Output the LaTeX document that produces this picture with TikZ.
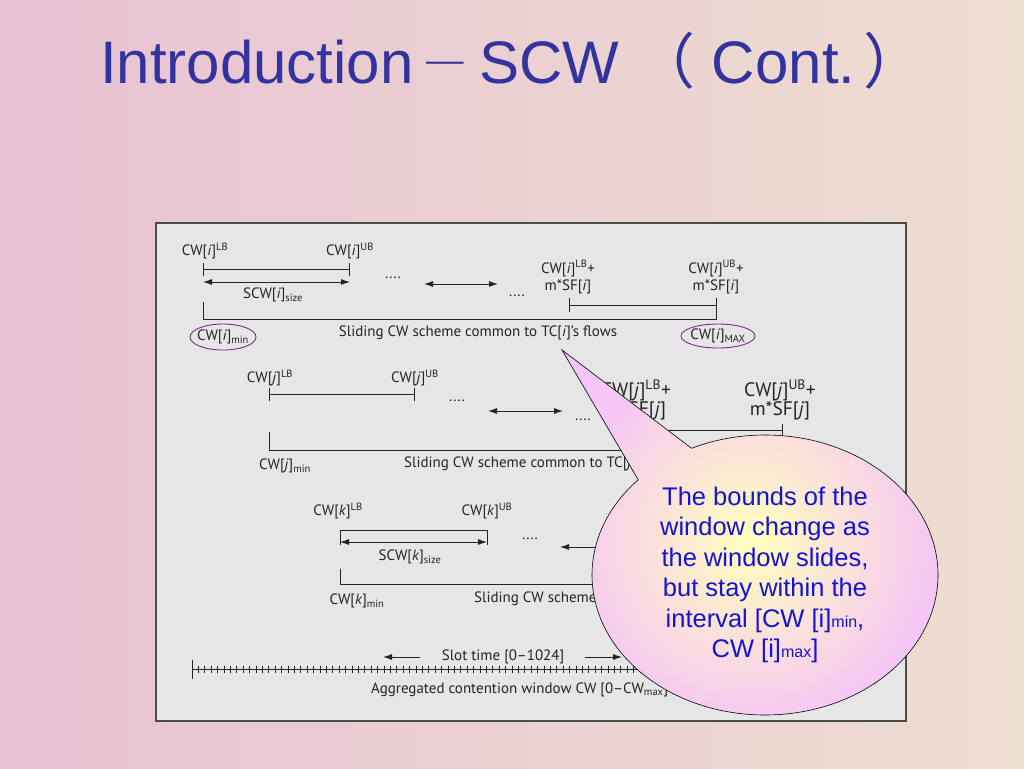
\documentclass[tikz,border=0pt]{standalone}
\usepackage{fontspec}
\usepackage{xcolor}
\usetikzlibrary{shapes,shapes.callouts,arrows.meta,positioning,calc}
\newfontfamily\figfont{PT Sans}
\newfontfamily\slidefont{Liberation Sans}
\newfontfamily\cjkfont{Noto Sans CJK SC}
\definecolor{titleblue}{RGB}{51,51,160}
\definecolor{noteblue}{RGB}{20,20,210}
\definecolor{panelgray}{RGB}{230,230,230}
\definecolor{inkgray}{RGB}{35,35,35}
\definecolor{ringviolet}{RGB}{130,40,140}
\definecolor{bgpink}{RGB}{232,194,212}
\definecolor{bgmid}{RGB}{246,234,236}
\definecolor{bgcream}{RGB}{238,222,208}
\definecolor{notein}{RGB}{255,255,188}
\definecolor{noteout}{RGB}{246,198,246}

\begin{document}
\begin{tikzpicture}[
    x=1pt, y=-1pt,
    lbl/.style={font=\figfont\fontsize{15}{17}\selectfont, text=inkgray, inner sep=1pt, align=center},
    biglbl/.style={lbl, font=\figfont\fontsize{19.5}{19}\selectfont},
    wire/.style={draw=inkgray, line width=0.9pt},
    spanbar/.style={wire, {Bar[width=13pt]}-{Bar[width=13pt]}},
    dbl/.style={wire, {Latex[length=9pt,width=6pt]}-{Latex[length=9pt,width=6pt]}},
    arr/.style={wire, -{Latex[length=9pt,width=6pt]}},
    ring/.style={draw=ringviolet, line width=0.9pt},
    panel/.style={draw=gray!60!black, line width=1.5pt, fill=panelgray, inner sep=0pt},
    note/.style={ellipse callout, draw=black, line width=0.6pt, shade, inner color=notein, outer color=noteout,
        inner sep=0pt, align=center, text=noteblue, font=\slidefont\fontsize{25.5}{30.5}\selectfont}
]
\useasboundingbox (0,0) rectangle (1024,768);

% Slide background
\fill[left color=bgpink, middle color=bgmid, right color=bgcream] (0,0) rectangle (1024,768);

% Title
\node[anchor=base west, inner sep=0pt, text=titleblue, font=\slidefont\fontsize{60}{60}\selectfont] (title) at (100,83)
    {Introduction\hspace{6pt}\raisebox{9pt}{\scalebox{0.86}[0.5]{\cjkfont －}}\hspace{8pt}SCW {\cjkfont （}\hspace{16pt}Cont.\hspace{8pt}{\cjkfont ）}};

% Figure panel
\node[panel, anchor=north west, minimum width=750, minimum height=498] (panel) at (155,222) {};

% Row i
\node[lbl] (lbi) at (205,251) {CW[\textit{i}]\textsuperscript{LB}};
\node[lbl] (ubi) at (350,251) {CW[\textit{i}]\textsuperscript{UB}};
\coordinate (ia) at (203,269);
\coordinate (ib) at (350,269);
\draw[spanbar] (ia) -- (ib);
\coordinate (isa) at (203,282);
\coordinate (isb) at (350,282);
\draw[dbl] (isa) -- (isb);
\node[lbl] (sizei) at (273,295) {SCW[\textit{i}]\textsubscript{size}};
\node[lbl] (dotsia) at (393,278) {....};
\coordinate (ima) at (424,284);
\coordinate (imb) at (498,284);
\draw[dbl] (ima) -- (imb);
\node[lbl] (dotsib) at (517,296) {....};
\node[lbl] (lbsi) at (568,277) {CW[\textit{i}]\textsuperscript{LB}+\\m*SF[\textit{i}]};
\node[lbl] (ubsi) at (716,277) {CW[\textit{i}]\textsuperscript{UB}+\\m*SF[\textit{i}]};
\coordinate (isf) at (569,305);
\coordinate (isg) at (716,305);
\draw[wire, {Bar[width=14pt]}-] (isf) -- (isg);
\coordinate (imin) at (203,319);
\coordinate (imax) at (716,319);
\draw[wire] ($(imin)+(0,-17)$) -- (imin) -- (imax) -- ($(imax)+(0,-21)$);
\node[lbl] (cwimin) at (223,337) {CW[\textit{i}]\textsubscript{min}};
\draw[ring] (cwimin.center) ellipse [x radius=33, y radius=13];
\node[lbl] (schi) at (478,333) {Sliding CW scheme common to TC[\textit{i}]’s flows};
\node[lbl] (cwimax) at (718,336) {CW[\textit{i}]\textsubscript{MAX}};
\draw[ring] (cwimax.center) ellipse [x radius=37, y radius=12];

% Row j
\node[lbl] (lbj) at (270,378) {CW[\textit{j}]\textsuperscript{LB}};
\node[lbl] (ubj) at (415,378) {CW[\textit{j}]\textsuperscript{UB}};
\coordinate (ja) at (269,394);
\coordinate (jb) at (415,394);
\draw[spanbar] (ja) -- (jb);
\node[lbl] (dotsja) at (457,401) {....};
\coordinate (jma) at (488,411);
\coordinate (jmb) at (563,411);
\draw[dbl] (jma) -- (jmb);
\node[lbl] (dotsjb) at (583,420) {....};
\node[biglbl] (lbsj) at (636,400) {CW[\textit{j}]\textsuperscript{LB}+\\m*SF[\textit{j}]};
\node[biglbl] (ubsj) at (780,400) {CW[\textit{j}]\textsuperscript{UB}+\\m*SF[\textit{j}]};
\coordinate (jsf) at (636,430);
\coordinate (jsg) at (782,430);
\draw[wire, {Bar[width=14pt]}-] (jsf) -- (jsg);
\coordinate (jmin) at (269,450);
\coordinate (jmax) at (782,450);
\draw[wire] ($(jmin)+(0,-18)$) -- (jmin) -- (jmax) -- ($(jmax)+(0,-26)$);
\node[lbl] (cwjmin) at (285,466) {CW[\textit{j}]\textsubscript{min}};
\node[lbl, anchor=west] (schj) at (403,464) {Sliding CW scheme common to TC[\textit{j}]’s flows};

% Row k
\node[lbl] (lbk) at (338,511) {CW[\textit{k}]\textsuperscript{LB}};
\node[lbl] (ubk) at (487,511) {CW[\textit{k}]\textsuperscript{UB}};
\coordinate (ka) at (340,530);
\coordinate (kb) at (487,530);
\draw[wire] ($(ka)+(0,15)$) -- (ka) -- (kb) -- ($(kb)+(0,15)$);
\coordinate (ksa) at (340,542);
\coordinate (ksb) at (487,542);
\draw[dbl] (ksa) -- (ksb);
\node[lbl] (sizek) at (410,557) {SCW[\textit{k}]\textsubscript{size}};
\node[lbl] (dotska) at (530,539) {....};
\coordinate (kma) at (560,547);
\coordinate (kmb) at (640,547);
\draw[dbl] (kma) -- (kmb);
\coordinate (kmin) at (340,584);
\coordinate (kmax) at (850,584);
\draw[wire] ($(kmin)+(0,-15)$) -- (kmin) -- (kmax);
\node[lbl] (cwkmin) at (357,601) {CW[\textit{k}]\textsubscript{min}};
\node[lbl, anchor=west] (schk) at (473,599) {Sliding CW scheme common to TC[\textit{k}]’s flows};

% Slot ruler
\node[lbl] (slot) at (503,657) {Slot time [0–1024]};
\coordinate (sla) at (420,657);
\coordinate (slb) at (383,657);
\draw[arr] (sla) -- (slb);
\coordinate (slc) at (585,657);
\coordinate (sld) at (622,657);
\draw[arr] (slc) -- (sld);
\coordinate (r0) at (192,669);
\coordinate (r1) at (740,669);
\draw[wire] (r0) -- (r1);
\draw[wire] ($(r0)+(0,-9)$) -- ($(r0)+(0,10)$);
\foreach \t in {1,...,85}
    \draw[wire, line width=0.7pt] ($(r0)+(6.4*\t,-3.5)$) -- ++(0,7);
\node[lbl, anchor=west] (agg) at (370,690) {Aggregated contention window CW [0–CW\textsubscript{max}]};

% Callout
\node[note, minimum width=346, minimum height=280, callout absolute pointer={(562,350)}, callout pointer arc=22] (callout) at (765,575)
    {The bounds of the\\window change as\\the window slides,\\but stay within the\\interval [CW [i]{\fontsize{16}{16}\selectfont min},\\CW [i]{\fontsize{16}{16}\selectfont max}]};

\end{tikzpicture}
\end{document}
